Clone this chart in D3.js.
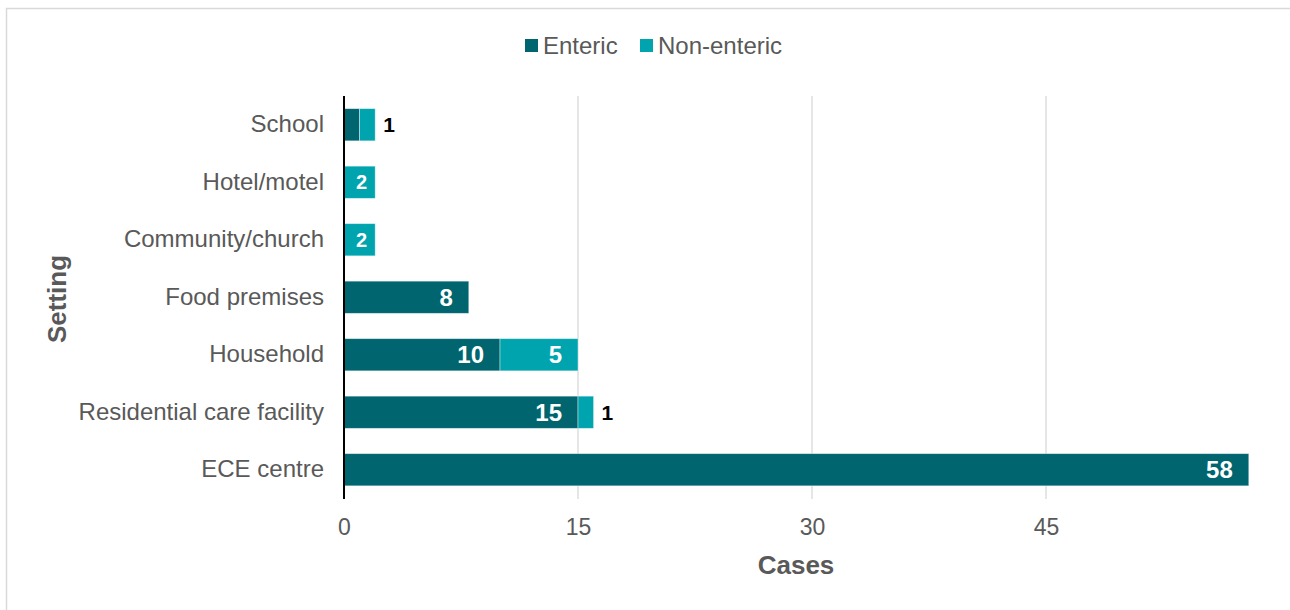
<!DOCTYPE html>
<html>
<head>
<meta charset="utf-8">
<script src="https://cdn.jsdelivr.net/npm/d3@7"></script>
<style>
  html, body { margin: 0; padding: 0; background: #fff; }
  svg { display: block; font-family: "Liberation Sans", Arial, sans-serif; }
</style>
</head>
<body>
<svg id="chart" width="1290" height="610"></svg>
<script>
// Data
const categories = ["School", "Hotel/motel", "Community/church", "Food premises", "Household", "Residential care facility", "ECE centre"];
const enteric =    [1, 0, 0, 8, 10, 15, 58];
const nonEnteric = [1, 2, 2, 0, 5, 1, 0];
const seriesNames = ["Enteric", "Non-enteric"];
const xTicks = [0, 15, 30, 45];

const colors = { "Enteric": "#00656f", "Non-enteric": "#00a4ae" };
const FONT = "Liberation Sans, Arial, sans-serif";

const svg = d3.select("#chart");

// Outer border (top and left visible)
svg.append("rect")
  .attr("x", 6.5).attr("y", 8.5)
  .attr("width", 1400).attr("height", 700)
  .attr("fill", "none").attr("stroke", "#d9d9d9").attr("stroke-width", 1.5);

const plot = { left: 344, top: 96, bottom: 499 };

const x = d3.scaleLinear().domain([0, 58]).range([plot.left, plot.left + 58 * 15.6]);
const y = d3.scaleBand().domain(categories).range([plot.top, plot.top + 57.5 * 7]).paddingInner(0.44).paddingOuter(0.22);

// Gridlines
svg.append("g").selectAll("line")
  .data(xTicks.filter(t => t > 0))
  .join("line")
  .attr("x1", d => x(d)).attr("x2", d => x(d))
  .attr("y1", plot.top).attr("y2", plot.bottom)
  .attr("stroke", "#d9d9d9").attr("stroke-width", 1.3);

// Stack data
const rows = categories.map((c, i) => ({ cat: c, "Enteric": enteric[i], "Non-enteric": nonEnteric[i] }));
const stack = d3.stack().keys(seriesNames)(rows);

const bars = svg.append("g");
stack.forEach(layer => {
  const key = layer.key;
  layer.forEach(seg => {
    const v = seg[1] - seg[0];
    if (v <= 0) return;
    const cat = seg.data.cat;
    const x0 = x(seg[0]), x1 = x(seg[1]);
    bars.append("rect")
      .attr("x", x0).attr("y", y(cat))
      .attr("width", x1 - x0).attr("height", y.bandwidth())
      .attr("fill", colors[key])
      .attr("stroke", "rgba(255,255,255,0.5)").attr("stroke-width", 0.8);
  });
});

// Data labels
const labels = svg.append("g").attr("font-weight", "bold").attr("font-family", FONT);
stack.forEach(layer => {
  const key = layer.key;
  layer.forEach(seg => {
    const v = seg[1] - seg[0];
    if (v <= 0) return;
    const cat = seg.data.cat;
    const x0 = x(seg[0]), x1 = x(seg[1]);
    const w = x1 - x0;
    const cy = y(cat) + y.bandwidth() / 2;
    if (w >= 45) {
      labels.append("text")
        .attr("x", x1 - 16).attr("y", cy).attr("dy", "0.36em")
        .attr("text-anchor", "end").attr("fill", "#fff").attr("font-size", 24).text(v);
    } else if (w >= 25) {
      labels.append("text")
        .attr("x", (x0 + x1) / 2 + 2).attr("y", cy).attr("dy", "0.36em")
        .attr("text-anchor", "middle").attr("fill", "#fff").attr("font-size", 20).text(v);
    } else if (key === "Non-enteric") {
      labels.append("text")
        .attr("x", x1 + 8).attr("y", cy).attr("dy", "0.36em")
        .attr("text-anchor", "start").attr("fill", "#000").attr("font-size", 21).text(v);
    }
  });
});

// Y axis line
svg.append("line")
  .attr("x1", plot.left).attr("x2", plot.left)
  .attr("y1", plot.top).attr("y2", plot.bottom)
  .attr("stroke", "#000").attr("stroke-width", 2);

// Y category labels
const yAxis = d3.axisLeft(y).tickSize(0).tickPadding(20);
const yg = svg.append("g").attr("transform", `translate(${plot.left},0)`).call(yAxis);
yg.select(".domain").remove();
yg.selectAll("text").attr("font-size", 24).attr("fill", "#595959").attr("font-family", FONT);

// X tick labels
const xAxis = d3.axisBottom(x).tickValues(xTicks).tickSize(0).tickPadding(20);
const xg = svg.append("g").attr("transform", `translate(0,${plot.bottom})`).call(xAxis);
xg.select(".domain").remove();
xg.selectAll("text").attr("font-size", 23).attr("fill", "#595959").attr("font-family", FONT);

// Axis titles
svg.append("text")
  .attr("x", 796).attr("y", 565).attr("dy", "0.36em")
  .attr("text-anchor", "middle").attr("font-size", 26).attr("font-weight", "bold")
  .attr("fill", "#595959").attr("font-family", FONT).text("Cases");

svg.append("text")
  .attr("transform", "translate(57,299) rotate(-90)")
  .attr("dy", "0.36em")
  .attr("text-anchor", "middle").attr("font-size", 26).attr("font-weight", "bold")
  .attr("fill", "#595959").attr("font-family", FONT).text("Setting");

// Legend
const legend = svg.append("g").attr("font-size", 24).attr("font-family", FONT);
const legendItems = [{ name: seriesNames[0], x: 525 }, { name: seriesNames[1], x: 640 }];
legendItems.forEach(it => {
  legend.append("rect").attr("x", it.x).attr("y", 39).attr("width", 13).attr("height", 13)
    .attr("fill", colors[it.name]);
  legend.append("text").attr("x", it.x + 18).attr("y", 45).attr("dy", "0.36em")
    .attr("fill", "#595959").text(it.name);
});
</script>
</body>
</html>
